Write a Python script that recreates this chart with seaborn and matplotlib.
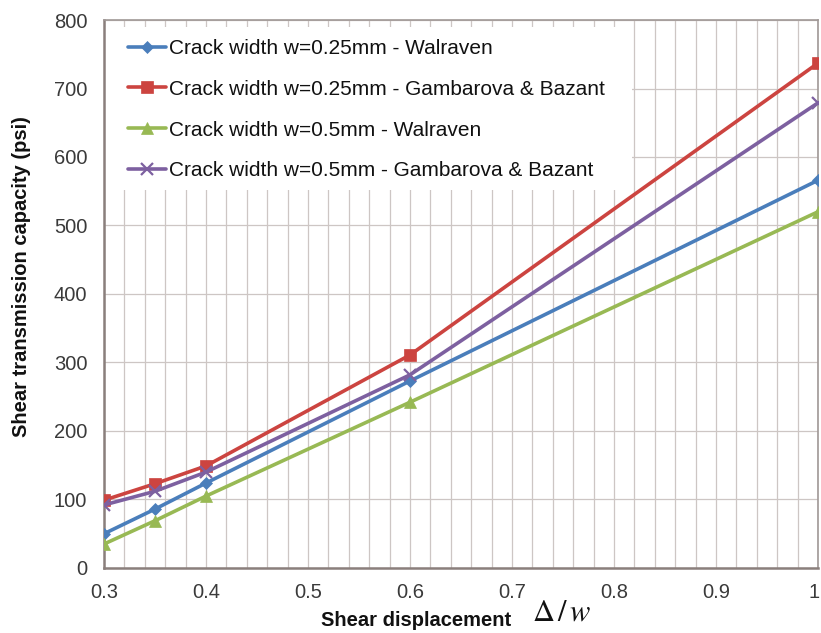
import matplotlib
matplotlib.use("Agg")
import matplotlib.pyplot as plt
import seaborn as sns
import pandas as pd
from matplotlib.ticker import MultipleLocator, FuncFormatter
from matplotlib.patches import Rectangle

sns.set_theme(style="white")
plt.rcParams['font.family'] = ['Liberation Sans', 'DejaVu Sans']
plt.rcParams['mathtext.fontset'] = 'stix'

x_vals = [0.3, 0.35, 0.4, 0.6, 1.0]
walraven_025 = [50, 86, 124, 273, 566]
gambarova_025 = [99, 123, 149, 311, 737]
walraven_05 = [35, 69, 105, 242, 520]
gambarova_05 = [92, 112, 140, 282, 679]

labels = ["Crack width w=0.25mm - Walraven",
          "Crack width w=0.25mm - Gambarova & Bazant",
          "Crack width w=0.5mm - Walraven",
          "Crack width w=0.5mm - Gambarova & Bazant"]
series = [walraven_025, gambarova_025, walraven_05, gambarova_05]
colors = ["#4a7ebb", "#cc4440", "#98b954", "#7d60a0"]
markers = ["D", "s", "^", "x"]
msizes = [6, 9, 9, 8]

rows = []
for lab, vals in zip(labels, series):
    for xv, yv in zip(x_vals, vals):
        rows.append({"x": xv, "y": yv, "series": lab})
df = pd.DataFrame(rows)

fig = plt.figure(figsize=(8.21, 6.33), dpi=100)
ax = fig.add_axes([0.1267, 0.1027, 0.8696, 0.8657])

for lab, c, m, ms in zip(labels, colors, markers, msizes):
    sub = df[df["series"] == lab]
    sns.lineplot(data=sub, x="x", y="y", ax=ax, color=c, marker=m,
                 markersize=ms, linewidth=2.6, label=lab,
                 markeredgecolor=c, markeredgewidth=1.6 if m == "x" else 0.5,
                 zorder=3)

ax.set_xlim(0.3, 1.0)
ax.set_ylim(0, 800)
ax.xaxis.set_major_locator(MultipleLocator(0.1))
ax.xaxis.set_minor_locator(MultipleLocator(0.02))
ax.yaxis.set_major_locator(MultipleLocator(100))
# the last label ("1") sits at the figure edge, drawn separately below
ax.xaxis.set_major_formatter(FuncFormatter(lambda v, p: "" if abs(v - 1) < 1e-6 else f"{v:.1f}"))

ax.grid(True, which="major", axis="y", color="#cdc6c4", linewidth=0.9)
ax.grid(True, which="both", axis="x", color="#cdc6c4", linewidth=0.9)
ax.set_axisbelow(True)

# white legend background area
ax.add_patch(Rectangle((0.0, 0.69), 0.74, 0.297, transform=ax.transAxes,
                       facecolor="white", edgecolor="none", zorder=1))

for s in ["left", "bottom"]:
    ax.spines[s].set_color("#8a7f7c")
    ax.spines[s].set_linewidth(1.8)
for s in ["top", "right"]:
    ax.spines[s].set_color("#a09896")
    ax.spines[s].set_linewidth(1.2)

ax.tick_params(axis="both", which="major", labelsize=14.5, colors="#8a7f7c",
               labelcolor="#3a3a3a", length=5, width=1.2, direction="out")
ax.tick_params(axis="x", which="major", pad=6)
ax.tick_params(axis="y", which="major", pad=7)
ax.tick_params(axis="x", which="minor", length=0)

ax.annotate("1", xy=(1.0, 0.0), xycoords=("data", "axes fraction"),
            xytext=(1, -11), textcoords="offset points", ha="right", va="top",
            fontsize=14.5, color="#3a3a3a", annotation_clip=False)

ax.set_ylabel("Shear transmission capacity (psi)", fontsize=14.5, fontweight="bold",
              color="#111111")
ax.yaxis.set_label_coords(-0.102, 0.531)
ax.set_xlabel("")
ax.text(0.437, -0.095, "Shear displacement", transform=ax.transAxes,
        fontsize=14.5, fontweight="bold", color="#111111", ha="center", va="center")
ax.text(0.641, -0.082, r"$\mathit{\Delta}\,/\,w$", transform=ax.transAxes,
        fontsize=22, color="#111111", ha="center", va="center")

leg = ax.legend(loc="upper left", bbox_to_anchor=(0.0336, 0.9656), frameon=False,
                fontsize=15, handlelength=1.8, labelspacing=1.05,
                borderpad=0.0, handletextpad=0.15, borderaxespad=0.0)
for t in leg.get_texts():
    t.set_color("#111111")
leg.set_zorder(5)

fig.savefig("out.png", dpi=100)
